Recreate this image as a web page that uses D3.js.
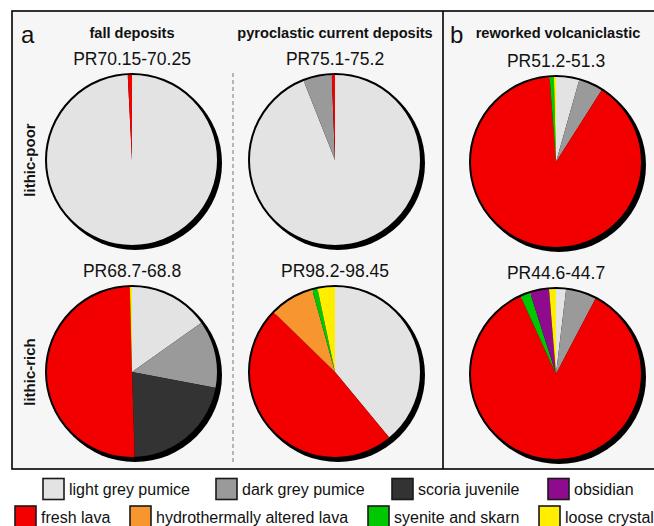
<!DOCTYPE html>
<html>
<head>
<meta charset="utf-8">
<script src="https://cdn.jsdelivr.net/npm/d3@7"></script>
<style>
  html, body { margin: 0; padding: 0; background: #ffffff; }
  svg { display: block; font-family: "Liberation Sans", Arial, sans-serif; }
</style>
</head>
<body>
<svg id="chart" width="654" height="526"></svg>
<script>
// Component classes, in stacking order (clockwise from 12 o'clock)
const components = [
  "light grey pumice", "dark grey pumice", "scoria juvenile", "fresh lava",
  "hydrothermally altered lava", "syenite and skarn", "obsidian", "loose crystals"
];
const componentColors = [
  "#e3e3e3", "#9a9a9a", "#333333", "#f20000",
  "#f7952f", "#00c800", "#8e0a8e", "#ffee00"
];

// Legend order (two rows)
const legendRow1 = ["light grey pumice", "dark grey pumice", "scoria juvenile", "obsidian"];
const legendRow2 = ["fresh lava", "hydrothermally altered lava", "syenite and skarn", "loose crystals"];

// Sample names
const samples = ["PR70.15-70.25", "PR75.1-75.2", "PR51.2-51.3", "PR68.7-68.8", "PR98.2-98.45", "PR44.6-44.7"];

// Clast proportions (%) per sample, in the order of `components`
const pr70_15 = [99.2, 0, 0, 0.8, 0, 0, 0, 0];
const pr75_1  = [94.0, 5.4, 0, 0.6, 0, 0, 0, 0];
const pr51_2  = [4.4, 4.6, 0, 89.8, 0, 0.8, 0, 0.4];
const pr68_7  = [15.2, 12.8, 21.5, 50.1, 0, 0, 0, 0.4];
const pr98_2  = [39.0, 0, 0, 48.3, 8.4, 1.0, 0, 3.3];
const pr44_6  = [1.9, 5.8, 0, 85.5, 0, 1.9, 3.6, 1.3];
const sampleValues = [pr70_15, pr75_1, pr51_2, pr68_7, pr98_2, pr44_6];

// Column / row headings
const columnHeads = ["fall deposits", "pyroclastic current deposits", "reworked volcaniclastic"];
const rowHeads = ["lithic-poor", "lithic-rich"];
const panelLetters = ["a", "b"];

const svg = d3.select("#chart");
const color = d3.scaleOrdinal().domain(components).range(componentColors);

// Panel frame
const frame = { left: 12, top: 11, right: 660, bottom: 469, split: 443 };
svg.append("rect")
  .attr("x", frame.left).attr("y", frame.top)
  .attr("width", frame.right - frame.left).attr("height", frame.bottom - frame.top)
  .attr("fill", "#f6f6f6").attr("stroke", "#000").attr("stroke-width", 1.6);
svg.append("line")
  .attr("x1", frame.split).attr("x2", frame.split)
  .attr("y1", frame.top).attr("y2", frame.bottom)
  .attr("stroke", "#000").attr("stroke-width", 1.6);

// dashed separator between fall and current deposits
svg.append("line")
  .attr("x1", 233).attr("x2", 233).attr("y1", 73).attr("y2", 462)
  .attr("stroke", "#777").attr("stroke-width", 1).attr("stroke-dasharray", "4,3");

// Panel letters
svg.selectAll("text.letter").data(panelLetters).join("text")
  .attr("class", "letter")
  .attr("x", (d, i) => [21, 450][i]).attr("y", 43)
  .attr("font-size", 24).attr("fill", "#111").text(d => d);

// Column headings
const colX = [132, 335, 556];
svg.selectAll("text.colhead").data(columnHeads).join("text")
  .attr("class", "colhead")
  .attr("x", (d, i) => colX[i] + (i === 2 ? 2 : 0)).attr("y", 38)
  .attr("text-anchor", "middle").attr("font-size", 14.6).attr("font-weight", "bold")
  .attr("fill", "#111").text(d => d);

// Row headings (rotated)
const rowY = [160, 372];
svg.selectAll("text.rowhead").data(rowHeads).join("text")
  .attr("class", "rowhead")
  .attr("transform", (d, i) => `translate(35,${rowY[i]}) rotate(-90)`)
  .attr("text-anchor", "middle").attr("font-size", 15).attr("font-weight", "bold")
  .attr("fill", "#111").text(d => d);

// Pies
const radius = 86;
const pie = d3.pie().sort(null).value(d => d.value);
const arc = d3.arc().innerRadius(0).outerRadius(radius);

samples.forEach((name, k) => {
  const cx = colX[k % 3];
  const cy = rowY[Math.floor(k / 3)] + (k % 3 === 2 ? 2 : 0);
  const g = svg.append("g").attr("transform", `translate(${cx},${cy})`);

  g.append("text")
    .attr("x", 0).attr("y", -radius - 9)
    .attr("text-anchor", "middle").attr("font-size", 17.5).attr("fill", "#111")
    .text(name);

  // drop shadow
  g.append("circle").attr("cx", 3).attr("cy", 3).attr("r", radius + 1).attr("fill", "#000");

  const data = components.map((c, i) => ({ key: c, value: sampleValues[k][i] }))
    .filter(d => d.value > 0);
  g.selectAll("path").data(pie(data)).join("path")
    .attr("d", arc)
    .attr("fill", d => color(d.data.key));

  g.append("circle").attr("r", radius).attr("fill", "none")
    .attr("stroke", "#000").attr("stroke-width", 2);
});

// Legend
const legendX1 = [43, 216, 392, 548];
const legendX2 = [15, 130, 368, 539];
function drawLegendRow(items, xs, y) {
  const row = svg.append("g");
  const it = row.selectAll("g").data(items).join("g")
    .attr("transform", (d, i) => `translate(${xs[i]},${y})`);
  it.append("rect").attr("x", 0).attr("y", 0).attr("width", 21).attr("height", 21)
    .attr("fill", d => color(d)).attr("stroke", "#1a1a1a").attr("stroke-width", 1.6);
  it.append("text").attr("x", 26).attr("y", 16.5)
    .attr("font-size", 16).attr("fill", "#111").text(d => d);
}
drawLegendRow(legendRow1, legendX1, 478.5);
drawLegendRow(legendRow2, legendX2, 506);
</script>
</body>
</html>
